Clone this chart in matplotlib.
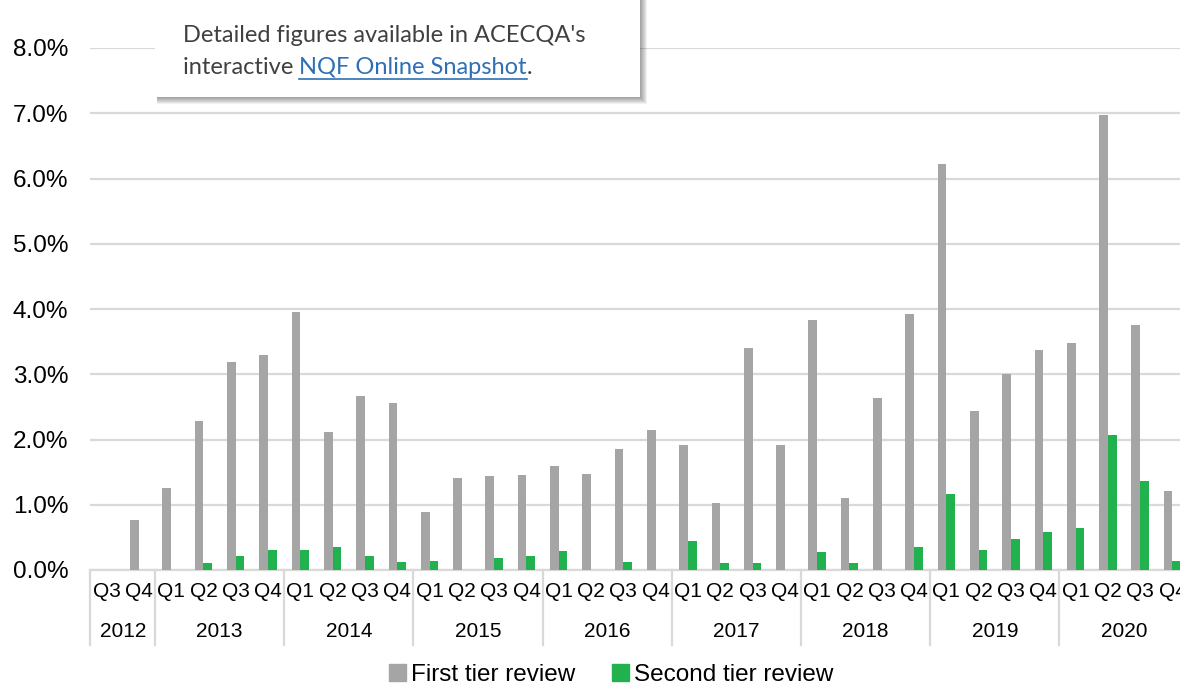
import numpy as np
import matplotlib
matplotlib.use("Agg")
import matplotlib.pyplot as plt
from matplotlib.patches import Rectangle, Patch
import matplotlib.transforms as mtransforms

plt.rcParams['font.family'] = ['Liberation Sans', 'DejaVu Sans']

# quarters from 2012 Q3 to 2020 Q4
years = ['2012', '2013', '2014', '2015', '2016', '2017', '2018', '2019', '2020']
quarters = ['Q3', 'Q4'] + ['Q1', 'Q2', 'Q3', 'Q4'] * 8

# percent of quality ratings reviewed
first_tier = [0.00, 0.77,
              1.25, 2.28, 3.19, 3.29,
              3.96, 2.11, 2.67, 2.56,
              0.89, 1.41, 1.44, 1.46,
              1.59, 1.47, 1.86, 2.14,
              1.92, 1.02, 3.40, 1.92,
              3.83, 1.10, 2.64, 3.92,
              6.22, 2.43, 3.01, 3.37,
              3.48, 6.98, 3.75, 1.21]
second_tier = [0.00, 0.00,
               0.00, 0.11, 0.22, 0.31,
               0.30, 0.36, 0.21, 0.12,
               0.14, 0.00, 0.18, 0.21,
               0.29, 0.00, 0.12, 0.00,
               0.45, 0.10, 0.10, 0.00,
               0.28, 0.11, 0.00, 0.36,
               1.16, 0.30, 0.48, 0.58,
               0.65, 2.07, 1.37, 0.14]

first_tier = np.array(first_tier) / 100
second_tier = np.array(second_tier) / 100
x = np.arange(len(quarters))

W, H = 1180, 686
fig = plt.figure(figsize=(W / 100, H / 100), dpi=100)
ax = fig.add_axes([90.4 / W, (H - 570) / H, (1188.6 - 90.4) / W, 522 / H])

gray = '#A5A5A5'
green = '#21B14F'
grid_c = '#D9D9D9'
w = 0.27

ax.bar(x - w / 2, first_tier, w, color=gray, zorder=3)
ax.bar(x + w / 2, second_tier, w, color=green, zorder=3)

ax.set_xlim(-0.5, len(quarters) - 0.5)
ax.set_ylim(0, 0.08)
ax.set_yticks(np.arange(0, 0.081, 0.01))
ax.set_yticklabels([f'{v * 100:.1f}%' for v in np.arange(0, 0.081, 0.01)], fontsize=17.5)
ax.tick_params(axis='y', length=0, pad=16)
ax.yaxis.grid(True, color=grid_c, lw=1.6, zorder=0)
ax.set_xticks([])
for s in ['top', 'right', 'left']:
    ax.spines[s].set_visible(False)
ax.spines['bottom'].set_color(grid_c)
ax.spines['bottom'].set_linewidth(1.6)

# two-level category axis
trans = mtransforms.blended_transform_factory(ax.transData, ax.transAxes)
for i, q in enumerate(quarters):
    ax.text(i, -0.042, q, transform=trans, ha='center', va='center', fontsize=15)
bounds = [-0.5, 1.5] + [1.5 + 4 * k for k in range(1, 9)]
for b in bounds:
    ax.plot([b, b], [0, -0.144], transform=trans, color=grid_c, lw=1.6, clip_on=False)
for k, yr in enumerate(years):
    ax.text((bounds[k] + bounds[k + 1]) / 2, -0.117, yr, transform=trans,
            ha='center', va='center', fontsize=15)

handles = [Patch(color=gray, label='First tier review'),
           Patch(color=green, label='Second tier review')]
fig.legend(handles=handles, loc='center', bbox_to_anchor=(0.518, 1 - 675 / H), ncol=2,
           frameon=False, fontsize=17.5, handlelength=0.7, handleheight=0.7,
           handletextpad=0.2, columnspacing=1.5)

# note box with shadow
bl, br, bb = 155, 640, 97
for k in range(7, 0, -1):
    fig.patches.append(Rectangle(((bl + 2) / W, (H - bb - k) / H), (br - bl - 2 + k) / W, (bb + 20) / H,
                                 transform=fig.transFigure, color='black', alpha=0.06,
                                 lw=0, zorder=5))
fig.patches.append(Rectangle((bl / W, (H - bb) / H), (br - bl) / W, (bb + 20) / H,
                             transform=fig.transFigure, color='white', lw=0, zorder=6))

txt_c = '#404040'
link_c = '#2F6FB5'
fs = 17
fig.text(183 / W, 1 - 35 / H, "Detailed figures available in ACECQA's", fontsize=fs,
         family='Lato', color=txt_c, va='center', zorder=7)
t1 = fig.text(183 / W, 1 - 67 / H, "interactive ", fontsize=fs, family='Lato',
              color=txt_c, va='center', zorder=7)
r = fig.canvas.get_renderer()
e1 = t1.get_window_extent(r)
t2 = fig.text(e1.x1 / W, 1 - 67 / H, "NQF Online Snapshot", fontsize=fs, family='Lato',
              color=link_c, va='center', zorder=7)
e2 = t2.get_window_extent(r)
fig.text(e2.x1 / W, 1 - 67 / H, ".", fontsize=fs, family='Lato',
         color=txt_c, va='center', zorder=7)
uy = (e2.y0 - 1) / H
fig.add_artist(plt.Line2D([e2.x0 / W, e2.x1 / W], [uy, uy], transform=fig.transFigure,
                          color=link_c, lw=1.2, zorder=7))

fig.savefig('out.png', dpi=100)
